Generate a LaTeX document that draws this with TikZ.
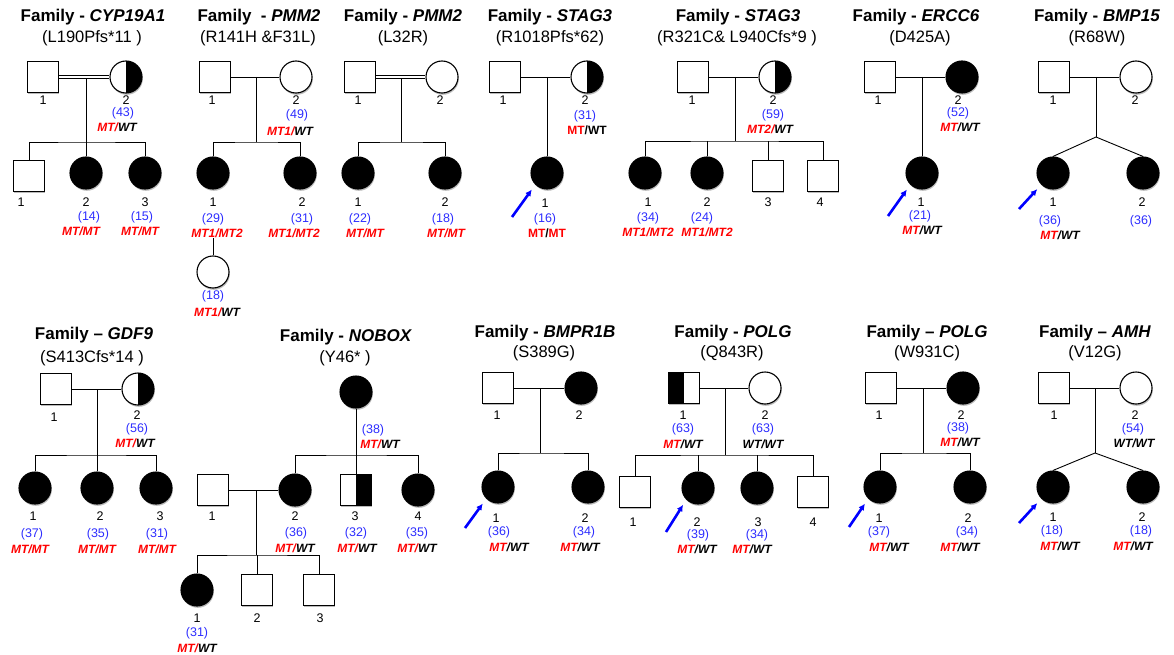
\documentclass[tikz,border=0pt]{standalone}
\usepackage{fontspec}
\setmainfont{Liberation Sans}
\usetikzlibrary{arrows.meta,shadows}

\definecolor{mtred}{RGB}{255,0,0}
\definecolor{ageblue}{RGB}{45,45,255}
\newcommand{\mt}[1]{\textcolor{mtred}{#1}}

\begin{document}
\begin{tikzpicture}[x=1pt, y=-1pt, line width=0.9pt]

	\tikzset{
		person/.style={draw, line width=1.1pt, inner sep=0pt, fill=white,
			drop shadow={shadow xshift=0.8pt, shadow yshift=-1.8pt, fill=black!45, opacity=0.6}},
		male/.style={person, rectangle, minimum size=31pt},
		female/.style={person, circle, minimum size=32pt},
		aff/.style={fill=black},
		halfR/.style={path picture={\fill[black] (path picture bounding box.north) rectangle (path picture bounding box.south east);}},
		halfL/.style={path picture={\fill[black] (path picture bounding box.north) rectangle (path picture bounding box.south west);}},
		consang/.style={double, double distance=2.2pt, line width=0.8pt},
		title/.style={font=\fontsize{17}{20}\selectfont\bfseries},
		sub/.style={font=\fontsize{16.5}{20}\selectfont},
		num/.style={font=\fontsize{12.5}{14}\selectfont, inner sep=0pt},
		age/.style={font=\fontsize{12.5}{14}\selectfont, text=ageblue, inner sep=0pt},
		gt/.style={font=\fontsize{12}{14}\selectfont\bfseries\itshape, inner sep=0pt},
		gtup/.style={font=\fontsize{12}{14}\selectfont\bfseries, inner sep=0pt},
		pointer/.style={-{Latex[length=6.5pt,width=6.5pt]}, line width=2.6pt, blue, shorten >=6pt}
	}

	\useasboundingbox (0,0) rectangle (1174,655);

	% ---------- top row ----------
	\node[title] (ta) at (93,17) {Family - \textit{CYP19A1}};
	\node[sub] (ua) at (92,38) {(L190Pfs*11 )};
	\node[title] (tb) at (259,17) {Family\ \ - \textit{PMM2}};
	\node[sub] (ub) at (258,38) {(R141H \&F31L)};
	\node[title] (tc) at (403,17) {Family - \textit{PMM2}};
	\node[sub] (uc) at (403,38) {(L32R)};
	\node[title] (td) at (550,17) {Family - \textit{STAG3}};
	\node[sub] (ud) at (550,38) {(R1018Pfs*62)};
	\node[title] (te) at (738,17) {Family - \textit{STAG3}};
	\node[sub] (ue) at (737,38) {(R321C\& L940Cfs*9 )};
	\node[title] (tf) at (916,17) {Family - \textit{ERCC6}};
	\node[sub] (uf) at (920,38) {(D425A)};
	\node[title] (tg) at (1097,17) {Family - \textit{BMP15}};
	\node[sub] (ug) at (1097,38) {(R68W)};

	% CYP19A1
	\node[male] (a1) at (43,77) {};
	\node[female, halfR] (a2) at (126,77) {};
	\coordinate (am) at (86,79);
	\coordinate (as) at (86,142);
	\node[male] (a3) at (29,176) {};
	\node[female, aff] (a4) at (86,173) {};
	\node[female, aff] (a5) at (145,173) {};
	\draw[consang] (a1) -- (a2);
	\draw (am) -- (as);
	\draw (a3) |- (as) -| (a5);
	\draw (a4) -- (as);
	\node[num] (a1n) at (43,100) {1};
	\node[num] (a2n) at (126,100) {2};
	\node[age] (a2y) at (123,113) {(43)};
	\node[gt] (a2g) at (117,127) {\mt{MT/}WT};
	\node[num] (a3n) at (21,202) {1};
	\node[num] (a4n) at (86,202) {2};
	\node[age] (a4y) at (89,217) {(14)};
	\node[gt] (a4g) at (81,231) {\mt{MT/MT}};
	\node[num] (a5n) at (145,202) {3};
	\node[age] (a5y) at (142,217) {(15)};
	\node[gt] (a5g) at (140,231) {\mt{MT/MT}};

	% PMM2 (R141H &F31L)
	\node[male] (b1) at (215,77) {};
	\node[female] (b2) at (296,77) {};
	\coordinate (bm) at (256,77);
	\coordinate (bs) at (256,142);
	\node[female, aff] (b3) at (213,173) {};
	\node[female, aff] (b4) at (300,173) {};
	\node[female] (b5) at (213,272) {};
	\draw (b1) -- (b2);
	\draw (bm) -- (bs);
	\draw (b3) |- (bs) -| (b4);
	\node[num] (b1n) at (212,100) {1};
	\node[num] (b2n) at (296,100) {2};
	\node[age] (b2y) at (297,115) {(49)};
	\node[gt] (b2g) at (290,131) {\mt{MT1/}WT};
	\node[num] (b3n) at (213,202) {1};
	\node[age] (b3y) at (213,219) {(29)};
	\node[gt] (b3g) at (217,233) {\mt{MT1/MT2}};
	\node[num] (b4n) at (302,202) {2};
	\node[age] (b4y) at (302,219) {(31)};
	\node[gt] (b4g) at (294,233) {\mt{MT1/MT2}};
	\node[age] (b5y) at (213,296) {(18)};
	\node[gt] (b5g) at (217,312) {\mt{MT1/}WT};
	\draw (b3g.south -| b5) -- (b5);

	% PMM2 (L32R)
	\node[male] (c1) at (360,77) {};
	\node[female] (c2) at (442,77) {};
	\coordinate (cm) at (401,79);
	\coordinate (cs) at (401,142);
	\node[female, aff] (c3) at (358,173) {};
	\node[female, aff] (c4) at (445,173) {};
	\draw[consang] (c1) -- (c2);
	\draw (cm) -- (cs);
	\draw (c3) |- (cs) -| (c4);
	\node[num] (c1n) at (358,100) {1};
	\node[num] (c2n) at (440,100) {2};
	\node[num] (c3n) at (358,202) {1};
	\node[age] (c3y) at (360,219) {(22)};
	\node[gt] (c3g) at (365,233) {\mt{MT/MT}};
	\node[num] (c4n) at (445,202) {2};
	\node[age] (c4y) at (443,219) {(18)};
	\node[gt] (c4g) at (446,233) {\mt{MT/MT}};

	% STAG3 (R1018Pfs*62)
	\node[male] (d1) at (505,77) {};
	\node[female, halfR] (d2) at (587,77) {};
	\coordinate (dm) at (547,77);
	\node[female, aff] (d3) at (547,173) {};
	\draw (d1) -- (d2);
	\draw (dm) -- (d3);
	\node[num] (d1n) at (503,100) {1};
	\node[num] (d2n) at (585,100) {2};
	\node[age] (d2y) at (585,116) {(31)};
	\node[gtup] (d2g) at (587,130) {\mt{MT}/WT};
	\node[num] (d3n) at (545,203) {1};
	\node[age] (d3y) at (545,219) {(16)};
	\node[gtup] (d3g) at (547,233) {\mt{MT}/\mt{MT}};
	\coordinate (dp) at (512,217);
	\draw[pointer] (dp) -- (d3.south west);

	% STAG3 (R321C& L940Cfs*9)
	\node[male] (e1) at (693,77) {};
	\node[female, halfR] (e2) at (775,77) {};
	\coordinate (em) at (735,77);
	\coordinate (es) at (735,141);
	\node[female, aff] (e3) at (645,173) {};
	\node[female, aff] (e4) at (707,173) {};
	\node[male] (e5) at (768,176) {};
	\node[male] (e6) at (823,176) {};
	\draw (e1) -- (e2);
	\draw (em) -- (es);
	\draw (e3) |- (es) -| (e6);
	\draw (e4) -- (e4 |- es);
	\draw (e5) -- (e5 |- es);
	\node[num] (e1n) at (692,100) {1};
	\node[num] (e2n) at (773,100) {2};
	\node[age] (e2y) at (773,115) {(59)};
	\node[gt] (e2g) at (770,129) {\mt{MT2/}WT};
	\node[num] (e3n) at (648,202) {1};
	\node[age] (e3y) at (648,218) {(34)};
	\node[gt] (e3g) at (648,232) {\mt{MT1/MT2}};
	\node[num] (e4n) at (707,202) {2};
	\node[age] (e4y) at (702,218) {(24)};
	\node[gt] (e4g) at (707,232) {\mt{MT1/MT2}};
	\node[num] (e5n) at (768,202) {3};
	\node[num] (e6n) at (820,202) {4};

	% ERCC6
	\node[male] (f1) at (880,77) {};
	\node[female, aff] (f2) at (962,77) {};
	\coordinate (fm) at (922,77);
	\node[female, aff] (f3) at (922,173) {};
	\draw (f1) -- (f2);
	\draw (fm) -- (f3);
	\node[num] (f1n) at (878,100) {1};
	\node[num] (f2n) at (958,100) {2};
	\node[age] (f2y) at (958,113) {(52)};
	\node[gt] (f2g) at (960,127) {\mt{MT}/WT};
	\node[num] (f3n) at (921,202) {1};
	\node[age] (f3y) at (920,216) {(21)};
	\node[gt] (f3g) at (922,230) {\mt{MT}/WT};
	\coordinate (fp) at (888,216);
	\draw[pointer] (fp) -- (f3.south west);

	% BMP15
	\node[male] (g1) at (1054,77) {};
	\node[female] (g2) at (1136,77) {};
	\coordinate (gm) at (1096,77);
	\coordinate (gs) at (1096,137);
	\node[female, aff] (g3) at (1053,173) {};
	\node[female, aff] (g4) at (1143,173) {};
	\draw (g1) -- (g2);
	\draw (gm) -- (gs);
	\draw (g3.north) -- (gs) -- (g4.north);
	\node[num] (g1n) at (1053,100) {1};
	\node[num] (g2n) at (1135,100) {2};
	\node[num] (g3n) at (1053,202) {1};
	\node[age] (g3y) at (1050,221) {(36)};
	\node[gt] (g3g) at (1060,235) {\mt{MT}/WT};
	\node[num] (g4n) at (1142,202) {2};
	\node[age] (g4y) at (1141,221) {(36)};
	\coordinate (gp) at (1019,209);
	\draw[pointer] (gp) -- (g3.south west);

	% ---------- bottom row ----------
	\node[title] (th) at (94,335) {Family -- \textit{GDF9}};
	\node[sub] (uh) at (92,358) {(S413Cfs*14 )};
	\node[title] (ti) at (346,337) {Family - \textit{NOBOX}};
	\node[sub] (ui) at (345,358) {(Y46* )};
	\node[title] (tj) at (545,333) {Family - \textit{BMPR1B}};
	\node[sub] (uj) at (544,353) {(S389G)};
	\node[title] (tk) at (733,333) {Family - \textit{POLG}};
	\node[sub] (uk) at (732,353) {(Q843R)};
	\node[title] (tl) at (927,333) {Family -- \textit{POLG}};
	\node[sub] (ul) at (927,353) {(W931C)};
	\node[title] (tm) at (1095,333) {Family -- \textit{AMH}};
	\node[sub] (um) at (1095,353) {(V12G)};

	% GDF9
	\node[male] (h1) at (56,389) {};
	\node[female, halfR] (h2) at (138,389) {};
	\coordinate (hm) at (97,389);
	\coordinate (hs) at (97,455);
	\node[female, aff] (h3) at (35,488) {};
	\node[female, aff] (h4) at (97,488) {};
	\node[female, aff] (h5) at (156,488) {};
	\draw (h1) -- (h2);
	\draw (hm) -- (hs);
	\draw (h3) |- (hs) -| (h5);
	\draw (h4) -- (hs);
	\node[num] (h1n) at (54,417) {1};
	\node[num] (h2n) at (137,415) {2};
	\node[age] (h2y) at (137,429) {(56)};
	\node[gt] (h2g) at (135,443) {\mt{MT/}WT};
	\node[num] (h3n) at (33,516) {1};
	\node[age] (h3y) at (32,534) {(37)};
	\node[gt] (h3g) at (30,549) {\mt{MT/MT}};
	\node[num] (h4n) at (100,516) {2};
	\node[age] (h4y) at (98,534) {(35)};
	\node[gt] (h4g) at (97,549) {\mt{MT/MT}};
	\node[num] (h5n) at (160,516) {3};
	\node[age] (h5y) at (157,534) {(31)};
	\node[gt] (h5g) at (157,549) {\mt{MT/MT}};

	% NOBOX
	\node[female, aff] (i1) at (356,392) {};
	\coordinate (is) at (356,455);
	\node[female, aff] (i2) at (295,490) {};
	\node[male, halfR] (i3) at (356,490) {};
	\node[female, aff] (i4) at (418,490) {};
	\node[male] (i5) at (213,490) {};
	\coordinate (im) at (256,490);
	\coordinate (it) at (256,555);
	\node[female, aff] (i6) at (197,590) {};
	\node[male] (i7) at (257,590) {};
	\node[male] (i8) at (319,590) {};
	\draw (i1) -- (i3);
	\draw (i2) |- (is) -| (i4);
	\draw (i5) -- (i2);
	\draw (im) -- (it);
	\draw (i6) |- (it) -| (i8);
	\draw (i7) -- (i7 |- it);
	\node[age] (i1y) at (373,430) {(38)};
	\node[gt] (i1g) at (380,444) {\mt{MT/}WT};
	\node[num] (i5n) at (212,516) {1};
	\node[num] (i2n) at (295,516) {2};
	\node[age] (i2y) at (296,533) {(36)};
	\node[gt] (i2g) at (295,548) {\mt{MT/}WT};
	\node[num] (i3n) at (355,516) {3};
	\node[age] (i3y) at (356,533) {(32)};
	\node[gt] (i3g) at (357,548) {\mt{MT/}WT};
	\node[num] (i4n) at (418,516) {4};
	\node[age] (i4y) at (417,533) {(35)};
	\node[gt] (i4g) at (417,548) {\mt{MT/}WT};
	\node[num] (i6n) at (197,618) {1};
	\node[age] (i6y) at (197,633) {(31)};
	\node[gt] (i6g) at (197,648) {\mt{MT/}WT};
	\node[num] (i7n) at (257,618) {2};
	\node[num] (i8n) at (320,618) {3};

	% BMPR1B
	\node[male] (j1) at (498,388) {};
	\node[female, aff] (j2) at (581,388) {};
	\coordinate (jm) at (540,388);
	\coordinate (js) at (540,453);
	\node[female, aff] (j3) at (498,487) {};
	\node[female, aff] (j4) at (588,487) {};
	\draw (j1) -- (j2);
	\draw (jm) -- (js);
	\draw (j3) |- (js) -| (j4);
	\node[num] (j1n) at (497,415) {1};
	\node[num] (j2n) at (579,415) {2};
	\node[num] (j3n) at (496,518) {1};
	\node[age] (j3y) at (499,532) {(36)};
	\node[gt] (j3g) at (509,547) {\mt{MT}/WT};
	\node[num] (j4n) at (585,518) {2};
	\node[age] (j4y) at (584,532) {(34)};
	\node[gt] (j4g) at (580,547) {\mt{MT}/WT};
	\coordinate (jp) at (465,528);
	\draw[pointer] (jp) -- (j3.south west);

	% POLG (Q843R)
	\node[male, halfL] (k1) at (684,388) {};
	\node[female] (k2) at (765,388) {};
	\coordinate (km) at (725,388);
	\coordinate (ks) at (725,455);
	\node[male] (k3) at (635,492) {};
	\node[female, aff] (k4) at (698,488) {};
	\node[female, aff] (k5) at (757,488) {};
	\node[male] (k6) at (813,492) {};
	\draw (k1) -- (k2);
	\draw (km) -- (ks);
	\draw (k3) |- (ks) -| (k6);
	\draw (k4) -- (k4 |- ks);
	\draw (k5) -- (k5 |- ks);
	\node[num] (k1n) at (683,415) {1};
	\node[age] (k1y) at (683,429) {(63)};
	\node[gt] (k1g) at (683,444) {\mt{MT}/WT};
	\node[num] (k2n) at (765,415) {2};
	\node[age] (k2y) at (763,429) {(63)};
	\node[gt] (k2g) at (763,444) {WT/WT};
	\node[num] (k3n) at (633,522) {1};
	\node[num] (k4n) at (697,522) {2};
	\node[age] (k4y) at (698,535) {(39)};
	\node[gt] (k4g) at (697,549) {\mt{MT}/WT};
	\node[num] (k5n) at (758,522) {3};
	\node[age] (k5y) at (757,535) {(34)};
	\node[gt] (k5g) at (752,549) {\mt{MT}/WT};
	\node[num] (k6n) at (813,522) {4};
	\coordinate (kp) at (666,532);
	\draw[pointer] (kp) -- (k4.south west);

	% POLG (W931C)
	\node[male] (l1) at (881,388) {};
	\node[female, aff] (l2) at (963,388) {};
	\coordinate (lm) at (923,388);
	\coordinate (ls) at (923,453);
	\node[female, aff] (l3) at (880,487) {};
	\node[female, aff] (l4) at (970,487) {};
	\draw (l1) -- (l2);
	\draw (lm) -- (ls);
	\draw (l3) |- (ls) -| (l4);
	\node[num] (l1n) at (879,415) {1};
	\node[num] (l2n) at (961,415) {2};
	\node[age] (l2y) at (958,428) {(38)};
	\node[gt] (l2g) at (960,442) {\mt{MT}/WT};
	\node[num] (l3n) at (879,518) {1};
	\node[age] (l3y) at (879,532) {(37)};
	\node[gt] (l3g) at (889,547) {\mt{MT}/WT};
	\node[num] (l4n) at (968,518) {2};
	\node[age] (l4y) at (967,532) {(34)};
	\node[gt] (l4g) at (960,547) {\mt{MT}/WT};
	\coordinate (lp) at (849,527);
	\draw[pointer] (lp) -- (l3.south west);

	% AMH
	\node[male] (m1) at (1054,388) {};
	\node[female] (m2) at (1136,388) {};
	\coordinate (mm) at (1095,388);
	\coordinate (ms) at (1095,453);
	\node[female, aff] (m3) at (1053,487) {};
	\node[female, aff] (m4) at (1143,487) {};
	\draw (m1) -- (m2);
	\draw (mm) -- (ms);
	\draw (m3.north) -- (ms) -- (m4.north);
	\node[num] (m1n) at (1054,415) {1};
	\node[num] (m2n) at (1135,415) {2};
	\node[age] (m2y) at (1133,429) {(54)};
	\node[gt] (m2g) at (1134,443) {WT/WT};
	\node[num] (m3n) at (1053,517) {1};
	\node[age] (m3y) at (1052,531) {(18)};
	\node[gt] (m3g) at (1060,546) {\mt{MT}/WT};
	\node[num] (m4n) at (1142,517) {2};
	\node[age] (m4y) at (1141,531) {(18)};
	\node[gt] (m4g) at (1133,546) {\mt{MT}/WT};
	\coordinate (mp) at (1019,523);
	\draw[pointer] (mp) -- (m3.south west);

\end{tikzpicture}
\end{document}
